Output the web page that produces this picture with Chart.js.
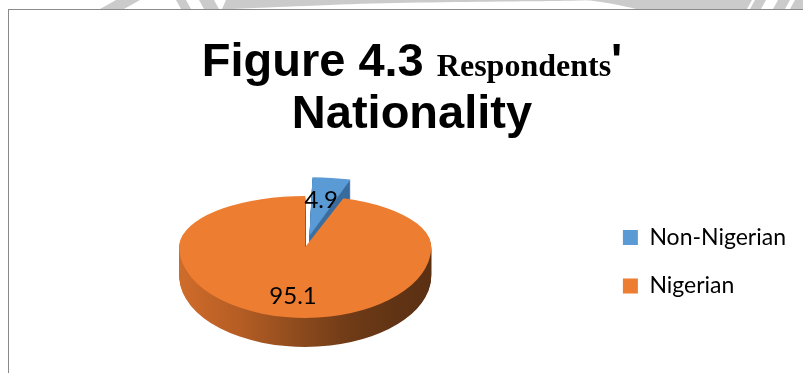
<!DOCTYPE html>
<html><head><meta charset="utf-8">
<script src="https://cdn.jsdelivr.net/npm/chart.js@4.4.1/dist/chart.umd.min.js"></script>
<style>
html,body{margin:0;padding:0;background:#fff;}
body{width:803px;height:373px;overflow:hidden;position:relative;}
#wm{position:absolute;left:0;top:0;}
#frame{position:absolute;left:8px;top:9px;width:900px;height:500px;border-left:1px solid #8a8a8a;border-top:1px solid #8a8a8a;background:#fff;}
#c{position:absolute;left:0;top:0;}
.tl{position:absolute;left:0;width:824px;text-align:center;white-space:nowrap;color:#000;line-height:52px;font-family:"Liberation Sans",Arial,sans-serif;font-weight:bold;font-size:47px;}
#t1{top:34px}
#t2{top:86px}
.tr{font-family:"Liberation Serif","Times New Roman",serif;font-size:32px;}
</style></head><body>
<svg id="wm" width="803" height="10" viewBox="0 0 803 10">
<g fill="#cbcbcb">
<polygon points="100,9 116,0 140,0 124,9"/>
<polygon points="176,0 186,0 191,9 181,9"/>
<polygon points="199,0 214,0 219,9 204,9"/>
<path d="M222,9 L226,0 L590,0 C560,2 420,1 330,5 C280,7 250,8 232,9 Z"/>
<path d="M585,0 L752,0 L747,9 L636,9 C620,5 605,2 585,0 Z"/>
<polygon points="755,0 766,0 761,9 750,9"/>
<polygon points="778,0 790,0 785,9 773,9"/>
<polygon points="795,0 803,0 803,9 790,9"/>
</g></svg>
<div id="frame"></div>
<canvas id="c" width="803" height="373"></canvas>
<div class="tl" id="t1">Figure 4.3 <span class="tr">Respondents</span>'</div>
<div class="tl" id="t2">Nationality</div>
<script>
const categories = ['Non-Nigerian', 'Nigerian'];
const values = [4.9, 95.1];
const sliceColors = ['#5B9BD5', '#ED7D31'];
const sideColorStops = [
  [[0, '#4a80b8'], [1, '#2f5f8e']],
  [[0, '#cf6c2b'], [0.24, '#b55d24'], [0.48, '#8c4a1d'], [0.67, '#703b17'], [0.87, '#603314'], [1, '#5b3013']]
];
const TILT_BACK = 0.405, TILT_FRONT = 0.563, DEPTH = 29, LABEL_R = 0.70;

function withHalf(ctx, chart, cx, cy, d, half, fn) {
  const yb = Math.round(cy + d);
  ctx.save();
  ctx.beginPath();
  if (half === 0) ctx.rect(0, 0, chart.width, yb); else ctx.rect(0, yb, chart.width, chart.height - yb);
  ctx.clip();
  const k = half === 0 ? TILT_BACK : TILT_FRONT;
  ctx.translate(cx, cy + d); ctx.scale(1, k); ctx.translate(-cx, -cy);
  fn();
  ctx.restore();
}
function drawArcWith(arc, ctx, fill) {
  const p = Object.create(arc);
  p.options = Object.assign({}, arc.options, {backgroundColor: fill, borderWidth: 0});
  p.draw(ctx);
}
const pie3d = {
  id: 'pie3d',
  beforeDatasetsDraw(chart) {
    const ctx = chart.ctx;
    const arcs = chart.getDatasetMeta(0).data;
    const cx = arcs[0].x, cy = arcs[0].y, R = arcs[0].outerRadius;
    const sides = sideColorStops.map(stops => {
      const g = ctx.createLinearGradient(cx - R, 0, cx + R, 0);
      stops.forEach(s => g.addColorStop(s[0], s[1]));
      return g;
    });
    for (let d = DEPTH; d >= 0; d--) {
      for (let h = 0; h < 2; h++) {
        withHalf(ctx, chart, cx, cy, d, h, () => {
          arcs.forEach((a, i) => drawArcWith(a, ctx, d === 0 ? a.options.backgroundColor : sides[i]));
        });
      }
    }
    ctx.save();
    ctx.fillStyle = '#000';
    ctx.font = '24px Lato';
    ctx.textAlign = 'center';
    ctx.textBaseline = 'middle';
    arcs.forEach((a, i) => {
      const mid = (a.startAngle + a.endAngle) / 2;
      const r = R * LABEL_R + (a.options.offset || 0) / 4;
      const ux = Math.cos(mid) * r * 0.9, uy = Math.sin(mid) * r;
      ctx.fillText(String(values[i]), a.x + ux, a.y + uy * (uy < 0 ? TILT_BACK : TILT_FRONT));
    });
    ctx.restore();
    return false;
  }
};
new Chart(document.getElementById('c'), {
  type: 'pie',
  data: {
    labels: categories,
    datasets: [{ data: values, backgroundColor: sliceColors, borderWidth: 0, offset: [110, 0], radius: 126, clip: false }]
  },
  options: {
    responsive: false, animation: false, devicePixelRatio: 1, events: [],
    layout: { padding: { left: 13, right: 7, top: 171, bottom: 50 } },
    plugins: {
      legend: { position: 'right', align: 'end',
        labels: { boxWidth: 15, boxHeight: 15, padding: 25.5, color: '#000', font: { family: 'Lato', size: 23 } } },
      tooltip: { enabled: false }
    }
  },
  plugins: [pie3d]
});
</script>
</body></html>
